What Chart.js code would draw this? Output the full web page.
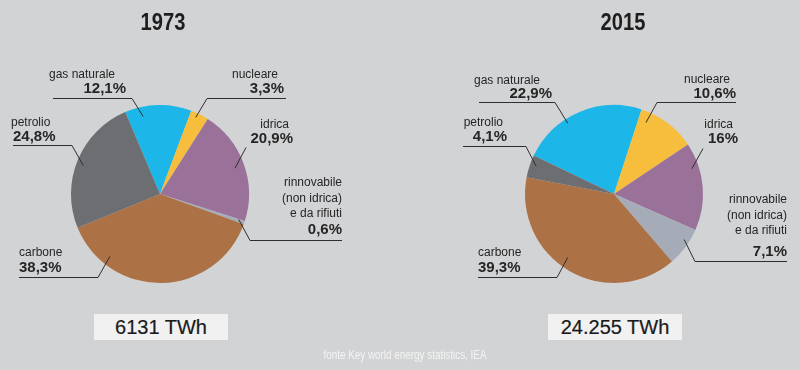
<!DOCTYPE html>
<html>
<head>
<meta charset="utf-8">
<script src="https://cdn.jsdelivr.net/npm/chart.js@4.4.1/dist/chart.umd.min.js"></script>
<style>
html,body{margin:0;padding:0;background:#d2d3d5;}
#wrap{position:relative;width:800px;height:370px;overflow:hidden;background:#d2d3d5;font-family:"Liberation Sans",Arial,sans-serif;}
canvas{position:absolute;left:0;top:0;}
.title{position:absolute;top:8px;width:120px;text-align:center;font-weight:bold;font-size:24px;font-family:"Liberation Sans",sans-serif;color:#1e1e1e;line-height:28px;transform:scaleX(0.84);transform-origin:center;}
.box{position:absolute;top:314px;height:26px;background:#f1f1f1;text-align:center;font-size:20px;font-family:"Liberation Sans",sans-serif;line-height:26px;color:#1a1a1a;-webkit-text-stroke:0.2px #1a1a1a;}
.src{position:absolute;left:5px;width:800px;top:347px;text-align:center;font-size:13px;font-family:"Liberation Sans",sans-serif;color:#f4f4f4;line-height:16px;transform:scaleX(0.76);transform-origin:center;}
</style>
</head>
<body>
<div id="wrap">
  <canvas id="c1" width="800" height="370"></canvas>
  <canvas id="c2" width="800" height="370"></canvas>
  <div class="title" id="t1" style="left:103px"></div>
  <div class="title" id="t2" style="left:563px"></div>
  <div class="box" id="b1" style="left:94px;width:134px"></div>
  <div class="box" id="b2" style="left:548px;width:134px"></div>
  <div class="src" id="src"></div>
</div>
<script>
// ---- data ----
const years = ['1973', '2015'];
const categories = ['gas naturale', 'nucleare', 'idrica', 'rinnovabile (non idrica) e da rifiuti', 'carbone', 'petrolio'];
const categoryLines = [['gas naturale'], ['nucleare'], ['idrica'], ['rinnovabile', '(non idrica)', 'e da rifiuti'], ['carbone'], ['petrolio']];
const share1973 = [12.1, 3.3, 20.9, 0.6, 38.3, 24.8];
const share2015 = [22.9, 10.6, 16, 7.1, 39.3, 4.1];
const totals = ['6131 TWh', '24.255 TWh'];
const sourceNote = 'fonte Key world energy statistics, IEA';

// ---- style ----
const colors = ['#1cb6e8', '#f6be3c', '#9a7199', '#a5acb8', '#ac7145', '#6d6e71'];

// label layout (per category): name/pct anchors, underline, elbow, leader angle offset, radius fraction
const layout1973 = [
  {nx:115, ny:75, na:'right', px:126, py:89, pa:'right', ul:[53,132,98], el:[132,98], off:-11, rf:0.89},
  {nx:278, ny:75, na:'right', px:284, py:89, pa:'right', ul:[207,286,98], el:[207,98], off:-1.5, rf:0.95},
  {nx:289, ny:125, na:'right', px:293, py:139, pa:'right', ul:null, el:[246,147], off:1, rf:0.89},
  {nx:342, ny:[183,199,214], na:'right', px:342, py:230, pa:'right', ul:[250,342,240], el:[250,240], off:-0.8, rf:0.93},
  {nx:19, ny:253, na:'left', px:19, py:268, pa:'left', ul:[19,98,277], el:[98,277], off:40, rf:0.9},
  {nx:11, ny:123, na:'left', px:13, py:137, pa:'left', ul:[13,72,145], el:[72,145], off:-2, rf:0.92}
];
const layout2015 = [
  {nx:540, ny:81, na:'right', px:552, py:94, pa:'right', ul:[479,555,102], el:[555,102], off:-10, rf:0.95},
  {nx:730, ny:80, na:'right', px:736, py:94, pa:'right', ul:[657,736,102], el:[657,102], off:-13, rf:0.88},
  {nx:733, ny:125, na:'right', px:738, py:139, pa:'right', ul:null, el:[703,148], off:-13, rf:0.92},
  {nx:787, ny:[200,216,231], na:'right', px:787, py:252, pa:'right', ul:[695,787,261], el:[695,261], off:-3.6, rf:0.94},
  {nx:478, ny:253, na:'left', px:478, py:268, pa:'left', ul:[478,557,277], el:[557,277], off:6, rf:0.88},
  {nx:503, ny:123, na:'right', px:507, py:137, pa:'right', ul:[463,526,146], el:[526,146], off:1.5, rf:0.93}
];

function fmtPct(v) { return String(v).replace('.', ',') + '%'; }

const labelPlugin = {
  id: 'leaderLabels',
  afterDatasetsDraw(chart, args, opts) {
    const ctx = chart.ctx;
    const meta = chart.getDatasetMeta(0);
    const values = chart.data.datasets[0].data;
    const lay = opts.layout;
    ctx.save();
    ctx.strokeStyle = '#2e2e2e';
    ctx.lineWidth = 1;
    ctx.fillStyle = '#262626';
    ctx.textBaseline = 'middle';
    meta.data.forEach((arc, i) => {
      const L = lay[i];
      const p = arc.getProps(['x', 'y', 'startAngle', 'endAngle', 'outerRadius'], true);
      const mid = (p.startAngle + p.endAngle) / 2 + L.off * Math.PI / 180;
      const ix = p.x + Math.cos(mid) * p.outerRadius * L.rf;
      const iy = p.y + Math.sin(mid) * p.outerRadius * L.rf;
      ctx.beginPath();
      if (L.ul) {
        ctx.moveTo(L.ul[0], L.ul[2] + 0.5);
        ctx.lineTo(L.ul[1], L.ul[2] + 0.5);
      }
      ctx.moveTo(L.el[0], L.el[1] + 0.5);
      ctx.lineTo(ix, iy);
      ctx.stroke();
      // name lines
      ctx.font = '12px "Liberation Sans", Arial, sans-serif';
      ctx.textAlign = L.na;
      const lines = categoryLines[i];
      const ys = Array.isArray(L.ny) ? L.ny : [L.ny];
      lines.forEach((t, k) => ctx.fillText(t, L.nx, ys[k]));
      ctx.font = 'bold 15px "Liberation Sans", Arial, sans-serif';
      ctx.textAlign = L.pa;
      ctx.fillText(fmtPct(values[i]), L.px, L.py);
    });
    ctx.restore();
  }
};

function makePie(id, values, rotation, padding, lay) {
  return new Chart(document.getElementById(id), {
    type: 'pie',
    data: {
      labels: categories,
      datasets: [{data: values, backgroundColor: colors, borderWidth: 0, hoverOffset: 0}]
    },
    options: {
      responsive: false,
      animation: false,
      rotation: rotation,
      layout: {padding: padding},
      plugins: {
        legend: {display: false},
        tooltip: {enabled: false},
        leaderLabels: {layout: lay}
      },
      events: []
    },
    plugins: [labelPlugin]
  });
}

makePie('c1', share1973, -23, {left:71, right:551, top:105, bottom:87}, layout1973);
makePie('c2', share2015, -64.4, {left:525, right:97, top:105, bottom:87}, layout2015);

document.getElementById('t1').textContent = years[0];
document.getElementById('t2').textContent = years[1];
document.getElementById('b1').textContent = totals[0];
document.getElementById('b2').textContent = totals[1];
document.getElementById('src').textContent = sourceNote;
</script>
</body>
</html>
